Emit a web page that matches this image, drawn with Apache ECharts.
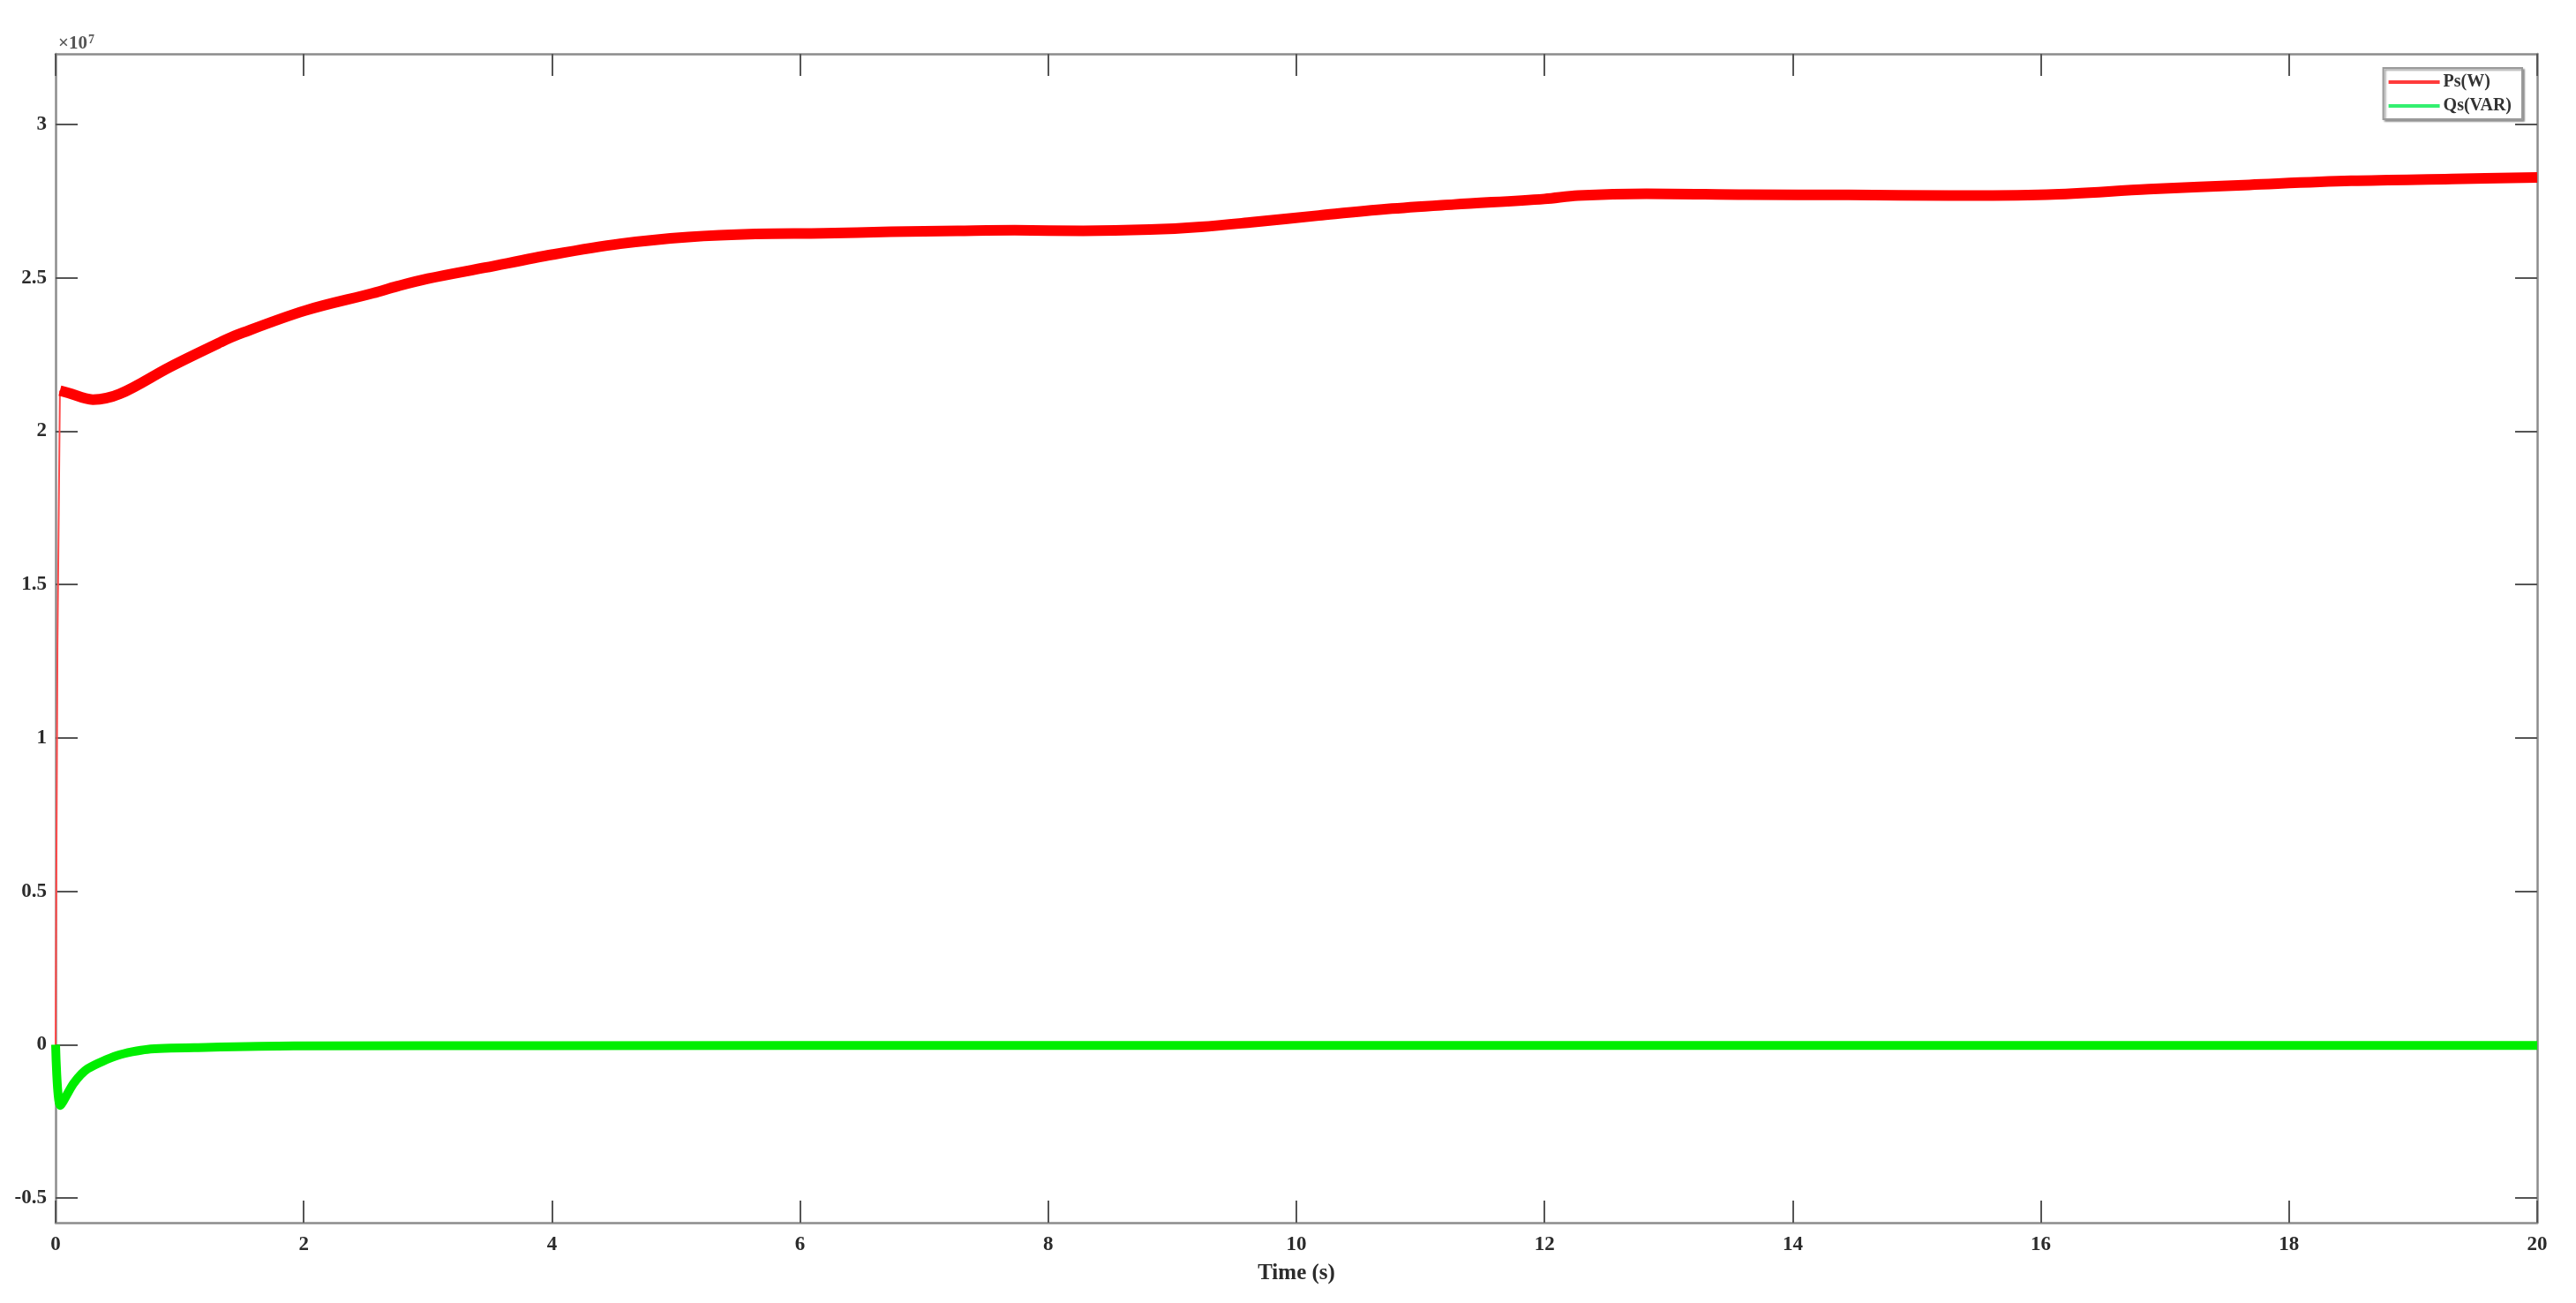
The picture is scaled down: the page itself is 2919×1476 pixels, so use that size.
<!DOCTYPE html>
<html>
<head>
<meta charset="utf-8">
<script src="https://cdn.jsdelivr.net/npm/echarts@6/dist/echarts.min.js"></script>
<style>
  html, body { margin: 0; padding: 0; background: #fff; }
  #chart { width: 2919px; height: 1476px; }
</style>
</head>
<body>
<div id="chart"></div>
<script>
// values in units of 1e7 (the axis shows x10^7)
var psTime = [0.035, 0.10, 0.30, 0.52, 0.92, 1.33, 1.47, 2.01, 2.56, 2.75, 3.00, 3.46, 4.01, 4.55, 5.10, 5.64, 6.19, 6.73, 7.27, 7.73, 8.28, 8.82, 9.23, 9.64, 10.18, 10.73, 11.27, 12.00, 12.27, 12.82, 13.63, 14.45, 15.26, 16.05, 16.87, 17.68, 18.50, 19.31, 20.00];
var psVal = [2.132, 2.125, 2.103, 2.122, 2.209, 2.290, 2.315, 2.393, 2.450, 2.472, 2.497, 2.533, 2.576, 2.611, 2.633, 2.643, 2.645, 2.650, 2.653, 2.655, 2.653, 2.657, 2.666, 2.681, 2.703, 2.724, 2.739, 2.757, 2.768, 2.774, 2.771, 2.770, 2.768, 2.771, 2.789, 2.803, 2.816, 2.822, 2.827];
// fast start-up rise of Ps
var psRiseTime = [0, 0.015, 0.035];
var psRiseVal = [0, 1.30, 2.132];

var qsTime = [0, 0.038, 0.145, 0.26, 0.50, 0.74, 1.21, 1.92, 4, 8, 12, 16, 20];
var qsVal = [0, -0.198, -0.126, -0.078, -0.035, -0.015, -0.009, -0.004, -0.003, -0.002, -0.002, -0.002, -0.002];

var xTicks = [0, 2, 4, 6, 8, 10, 12, 14, 16, 18, 20];
var yTicks = [-0.5, 0, 0.5, 1, 1.5, 2, 2.5, 3];

function pairs(xs, ys) {
  return xs.map(function (x, i) { return [x, ys[i]]; });
}

var chart = echarts.init(document.getElementById("chart"));
var font = "Liberation Serif";
var axisGray = "#8c8c8c";
var tickDark = "#555";

var xBase = {
  type: "value",
  min: 0,
  max: 20,
  interval: 2,
  splitLine: { show: false },
  axisLine: { show: true, onZero: false, lineStyle: { color: axisGray, width: 2.5 } },
  axisTick: { show: true, inside: true, length: 25, lineStyle: { color: tickDark, width: 2 } },
};
var yBase = {
  type: "value",
  min: -0.58,
  max: 3.23,
  splitLine: { show: false },
  axisLine: { show: true, onZero: false, lineStyle: { color: axisGray, width: 2.5 } },
  axisTick: { show: true, inside: true, length: 25, customValues: yTicks, lineStyle: { color: tickDark, width: 2 } },
};

var option = {
  animation: false,
  backgroundColor: "#fff",
  grid: { left: 63, right: 44, top: 61, bottom: 91, containLabel: false },
  legend: {
    right: 61,
    top: 77,
    orient: "vertical",
    backgroundColor: "#fff",
    borderColor: "#9a9a9a",
    borderWidth: 2,
    borderRadius: 0,
    padding: [6, 12, 5, 6],
    itemGap: 7,
    itemWidth: 58,
    itemHeight: 4,
    shadowColor: "rgba(0,0,0,0.35)",
    shadowBlur: 2,
    shadowOffsetX: 2,
    shadowOffsetY: 2,
    textStyle: { fontFamily: font, fontWeight: "bold", fontSize: 20, color: "#333", padding: [0, 0, 0, -1] },
    data: [
      { name: "Ps(W)", icon: "rect", itemStyle: { color: "#ff3b3b" } },
      { name: "Qs(VAR)", icon: "rect", itemStyle: { color: "#33f070" } },
    ],
  },
  graphic: [
    {
      type: "text",
      left: 66,
      top: 38,
      style: {
        text: "×10{s|7}",
        fontFamily: font,
        fontWeight: "bold",
        fontSize: 21,
        fill: "#555",
        rich: { s: { fontFamily: font, fontWeight: "bold", fontSize: 14, fill: "#555", verticalAlign: "top", padding: [0, 0, 10, 1] } },
      },
    },
  ],
  xAxis: [
    Object.assign({}, xBase, {
      position: "bottom",
      name: "Time (s)",
      nameLocation: "middle",
      nameGap: 45,
      nameTextStyle: { fontFamily: font, fontWeight: "bold", fontSize: 25, color: "#2b2b2b" },
      axisLabel: { show: true, margin: 14, fontFamily: font, fontWeight: "bold", fontSize: 23, color: "#2b2b2b" },
    }),
    Object.assign({}, xBase, { position: "top", axisLabel: { show: false } }),
  ],
  yAxis: [
    Object.assign({}, yBase, {
      position: "left",
      axisLabel: {
        show: true,
        margin: 10,
        customValues: yTicks,
        fontFamily: font,
        fontWeight: "bold",
        fontSize: 23,
        color: "#2b2b2b",
        formatter: function (v) { return String(v); },
      },
    }),
    Object.assign({}, yBase, { position: "right", axisLabel: { show: false } }),
  ],
  series: [
    {
      name: "Ps(W)",
      type: "line",
      xAxisIndex: 0,
      yAxisIndex: 0,
      data: pairs(psRiseTime, psRiseVal),
      showSymbol: false,
      lineStyle: { color: "#ff4a4a", width: 2 },
      itemStyle: { color: "#ff3b3b" },
    },
    {
      name: "Ps(W)",
      type: "line",
      xAxisIndex: 0,
      yAxisIndex: 0,
      data: pairs(psTime, psVal),
      showSymbol: false,
      smooth: 0.35,
      lineStyle: { color: "#ff0000", width: 12, join: "round" },
      itemStyle: { color: "#ff3b3b" },
    },
    {
      name: "Qs(VAR)",
      type: "line",
      xAxisIndex: 0,
      yAxisIndex: 0,
      data: pairs(qsTime, qsVal),
      showSymbol: false,
      smooth: 0.25,
      lineStyle: { color: "#00ee00", width: 10, join: "round" },
      itemStyle: { color: "#33f070" },
    },
  ],
};

chart.setOption(option);
</script>
</body>
</html>
